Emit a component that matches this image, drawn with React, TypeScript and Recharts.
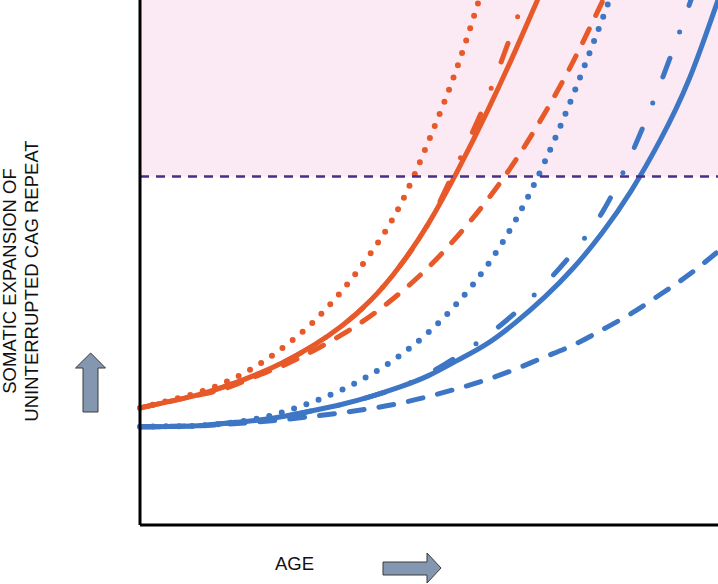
import { LineChart, Line, XAxis, YAxis, ReferenceArea, ReferenceLine } from "recharts";

// age in arbitrary units (0-100), expansion in arbitrary units (0-100, top of plot = 100)
const ages = [0, 5, 10, 15, 20, 25, 30, 35, 40, 45, 50, 55, 60, 65, 70, 75, 80, 85, 90, 95, 100];

const orangeSolid = [22.3, 23.5, 24.8, 26.5, 28.6, 31.1, 34.2, 38.0, 42.9, 49.4, 57.6, 67.6, 78.6, 90.5, 103.1];
const orangeDashDot = [22.3, 23.5, 24.8, 26.5, 28.6, 31.1, 34.2, 38.0, 42.9, 49.4, 57.6, 68.9, 81.1, 95.8, 110.5];
const orangeDotted = [22.3, 23.7, 25.2, 27.3, 30.2, 34.0, 38.7, 44.7, 51.9, 60.9, 73.3, 87.6, 104.8];
const orangeDashed = [22.3, 23.5, 24.7, 26.1, 28.3, 30.5, 33.2, 36.3, 39.9, 44.2, 49.2, 55.1, 61.8, 69.5, 78.4, 88.4, 99.7, 111];

const blueSolid = [18.7, 18.75, 18.9, 19.4, 19.9, 20.7, 21.8, 23.0, 24.5, 26.3, 28.5, 31.4, 34.5, 38.6, 43.4, 49.0, 55.7, 63.7, 73.3, 84.9, 100];
const blueDashDot = [18.7, 18.75, 18.9, 19.4, 19.9, 20.7, 21.8, 23.0, 24.5, 26.3, 28.9, 32.2, 36.0, 40.5, 45.8, 52.0, 59.6, 70.6, 84.0, 99.0, 115];
const blueDotted = [18.7, 18.8, 18.9, 19.4, 20.2, 21.6, 23.5, 25.8, 28.7, 32.3, 36.8, 42.4, 49.3, 58.1, 69.1, 82.1, 96.4, 111.4];
const blueDashed = [18.7, 18.8, 18.9, 19.2, 19.6, 20.1, 20.7, 21.4, 22.2, 23.2, 24.5, 26.0, 27.7, 29.7, 32.0, 34.3, 37.2, 40.3, 43.9, 47.7, 52.1];

const threshold = 66.4;

const data = ages.map((age, i) => ({
  age,
  orangeSolid: orangeSolid[i] ?? null,
  orangeDashDot: orangeDashDot[i] ?? null,
  orangeDotted: orangeDotted[i] ?? null,
  orangeDashed: orangeDashed[i] ?? null,
  blueSolid: blueSolid[i] ?? null,
  blueDashDot: blueDashDot[i] ?? null,
  blueDotted: blueDotted[i] ?? null,
  blueDashed: blueDashed[i] ?? null,
}));

const ORANGE = "#e8592a";
const BLUE = "#3d76c4";

const styles: Record<string, string> = {
  solid: "",
  dotted: "0 13",
  dashed: "15 15",
  dashDot: "20 28 0 28",
};

const series = [
  { key: "blueDashed", color: BLUE, style: "dashed" },
  { key: "blueSolid", color: BLUE, style: "solid" },
  { key: "blueDashDot", color: BLUE, style: "dashDot" },
  { key: "blueDotted", color: BLUE, style: "dotted" },
  { key: "orangeDashed", color: ORANGE, style: "dashed" },
  { key: "orangeSolid", color: ORANGE, style: "solid" },
  { key: "orangeDashDot", color: ORANGE, style: "dashDot" },
  { key: "orangeDotted", color: ORANGE, style: "dotted" },
];

export default function App() {
  return (
    <div style={{ position: "absolute", left: 0, top: 0, width: 718, height: 584, background: "#fff" }}>
      <LineChart width={718} height={584} data={data} margin={{ top: 0, right: 0, bottom: 0, left: 0 }}>
        <ReferenceArea y1={threshold} y2={100} fill="#fbeaf3" fillOpacity={1} stroke="none" />
        <XAxis
          dataKey="age"
          type="number"
          domain={[0, 100]}
          tick={false}
          tickLine={false}
          height={59}
          axisLine={{ stroke: "#000", strokeWidth: 3 }}
        />
        <YAxis
          type="number"
          domain={[0, 100]}
          allowDataOverflow
          tick={false}
          tickLine={false}
          width={140}
          axisLine={{ stroke: "#000", strokeWidth: 3 }}
        />
        {series.map((s) => (
          <Line
            key={s.key}
            dataKey={s.key}
            type="natural"
            stroke={s.color}
            strokeWidth={s.style === "dotted" ? 6 : 5}
            strokeDasharray={styles[s.style] || undefined}
            strokeLinecap="round"
            dot={false}
            activeDot={false}
            isAnimationActive={false}
          />
        ))}
        <ReferenceLine y={threshold} stroke="#4b2c86" strokeWidth={2.5} strokeDasharray="9 7" />
      </LineChart>

      <svg
        width={718}
        height={584}
        style={{ position: "absolute", left: 0, top: 0, pointerEvents: "none" }}
        fontFamily="'Liberation Sans', Arial, sans-serif"
        fontSize={18.5}
        fill="#111"
      >
        <text x={16} y={281} textAnchor="middle" transform="rotate(-90 16 281)">
          SOMATIC EXPANSION OF
        </text>
        <text x={37.5} y={281} textAnchor="middle" transform="rotate(-90 37.5 281)">
          UNINTERRUPTED CAG REPEAT
        </text>
        <text x={275} y={570}>AGE</text>
        <polygon
          points="83,412 98,412 98,368 105.5,368 90.7,353 75.5,368 83,368"
          fill="#8497b0"
          stroke="#3a3a3a"
          strokeWidth={1}
        />
        <polygon
          points="383,562 427,562 427,553 441,568 427,583 427,575 383,575"
          fill="#8497b0"
          stroke="#3a3a3a"
          strokeWidth={1}
        />
      </svg>
    </div>
  );
}
